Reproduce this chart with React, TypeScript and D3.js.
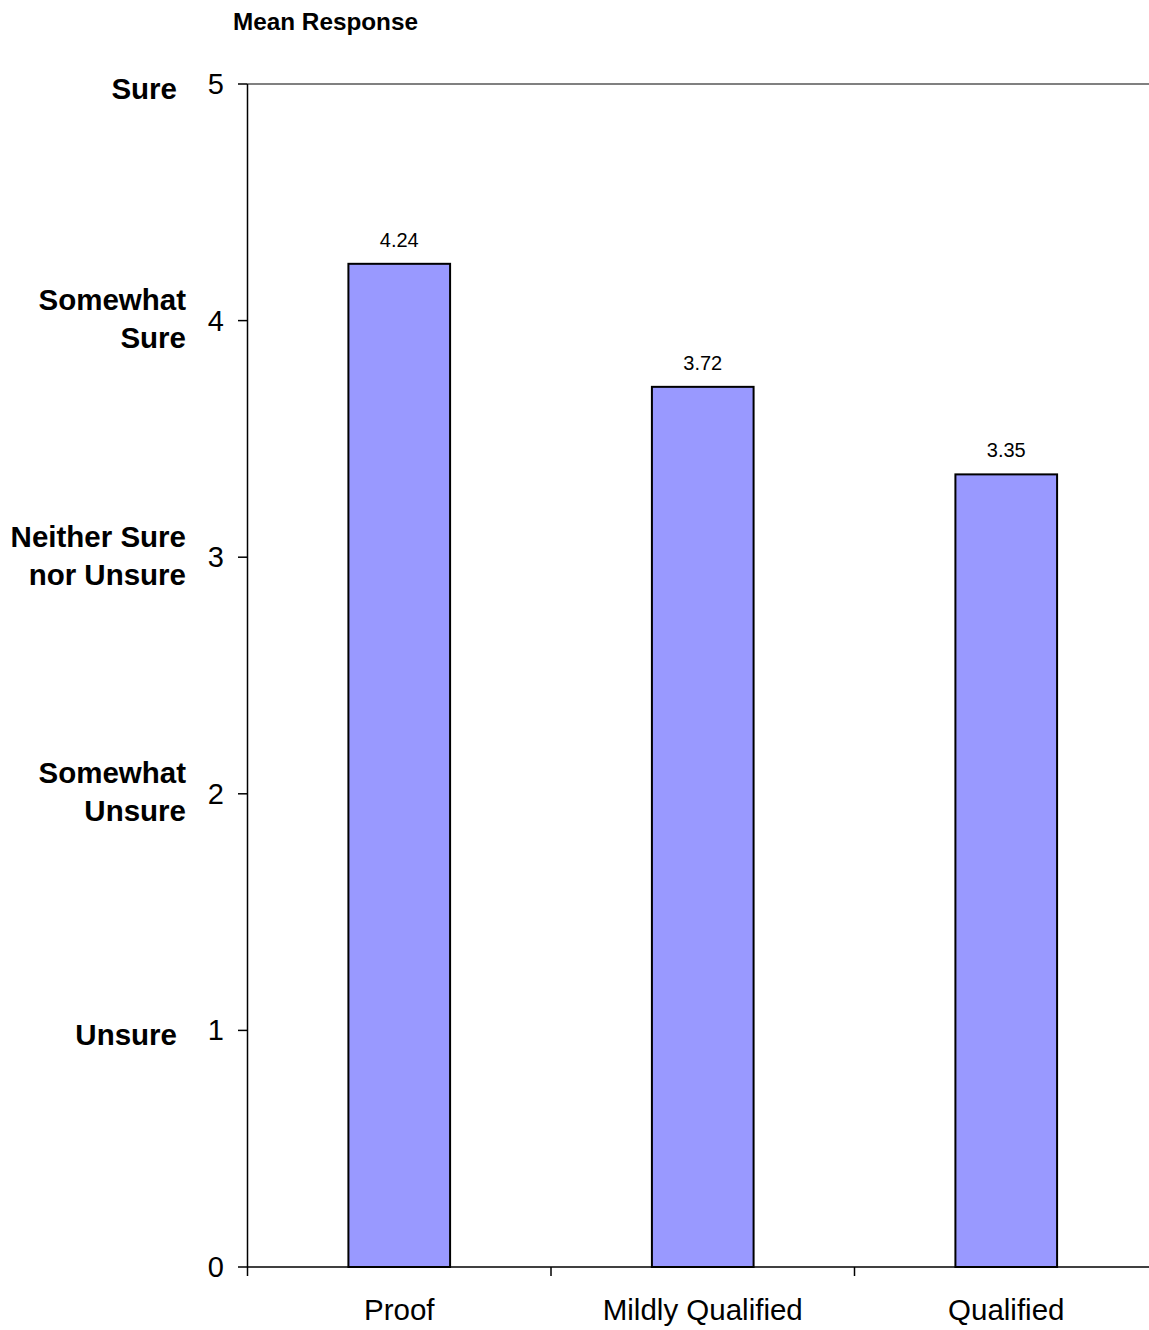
import React from "react";
import * as d3 from "d3";

const categories = ["Proof", "Mildly Qualified", "Qualified"];
const values = [4.24, 3.72, 3.35];
const yTicks = [0, 1, 2, 3, 4, 5];
const yLabels: { v: number; lines: string[]; right: number }[] = [
  { v: 5, lines: ["Sure"], right: 177 },
  { v: 4, lines: ["Somewhat", "Sure"], right: 186 },
  { v: 3, lines: ["Neither Sure", "nor Unsure"], right: 186 },
  { v: 2, lines: ["Somewhat", "Unsure"], right: 186 },
  { v: 1, lines: ["Unsure"], right: 177 },
];

const W = 1149, H = 1330;
const left = 247.5, right = 1158, top = 84, bottom = 1267;
const font = "Liberation Sans, Arial, sans-serif";

export default function App() {
  const y = d3.scaleLinear().domain([0, 5]).range([bottom, top]);
  const x = d3.scaleBand().domain(categories).range([left, right]).paddingInner(0).paddingOuter(0);
  const bw = x.bandwidth();
  const barW = bw * 0.335;
  const edges = d3.range(categories.length + 1).map((i) => left + i * bw);
  return (
    <svg width={W} height={H} style={{ position: "absolute", left: 0, top: 0, background: "#fff" }}>
      <rect x={0} y={0} width={W} height={H} fill="#fff" />
      <text x={233} y={30} fontFamily={font} fontWeight="bold" fontSize={24.3} fill="#000">Mean Response</text>
      {/* top frame line */}
      <line x1={left} x2={right} y1={top} y2={top} stroke="#808080" strokeWidth={2} />
      {/* bars */}
      {values.map((v, i) => {
        const cx = (x(categories[i]) as number) + bw / 2;
        return (
          <g key={i}>
            <rect x={cx - barW / 2} y={y(v)} width={barW} height={bottom - y(v)} fill="#9999ff" stroke="#000" strokeWidth={2} />
            <text x={cx} y={y(v) - 17} textAnchor="middle" fontFamily={font} fontSize={20} fill="#000">{v.toFixed(2)}</text>
            <text x={cx} y={1320} textAnchor="middle" fontFamily={font} fontSize={29.5} fill="#000">{categories[i]}</text>
          </g>
        );
      })}
      {/* y axis */}
      <line x1={left} x2={left} y1={top} y2={bottom} stroke="#000" strokeWidth={1.5} />
      {yTicks.map((t) => (
        <g key={t}>
          <line x1={238} x2={left} y1={y(t)} y2={y(t)} stroke="#000" strokeWidth={1.5} />
          <text x={224} y={y(t) + 10} textAnchor="end" fontFamily={font} fontSize={29} fill="#000">{t}</text>
        </g>
      ))}
      {/* x axis */}
      <line x1={left} x2={right} y1={bottom} y2={bottom} stroke="#000" strokeWidth={1.5} />
      {edges.map((e, i) => (
        <line key={i} x1={e} x2={e} y1={bottom} y2={bottom + 9} stroke="#000" strokeWidth={1.5} />
      ))}
      {/* y category labels */}
      {yLabels.map((l, i) => {
        const n = l.lines.length;
        const c = y(l.v) + (n === 1 ? 4 : -2);
        return (
          <text key={i} textAnchor="end" fontFamily={font} fontWeight="bold" fontSize={29.5} fill="#000">
            {l.lines.map((s, j) => (
              <tspan key={j} x={l.right} y={c + (j - (n - 1) / 2) * 38 + 10.5}>{s}</tspan>
            ))}
          </text>
        );
      })}
    </svg>
  );
}
